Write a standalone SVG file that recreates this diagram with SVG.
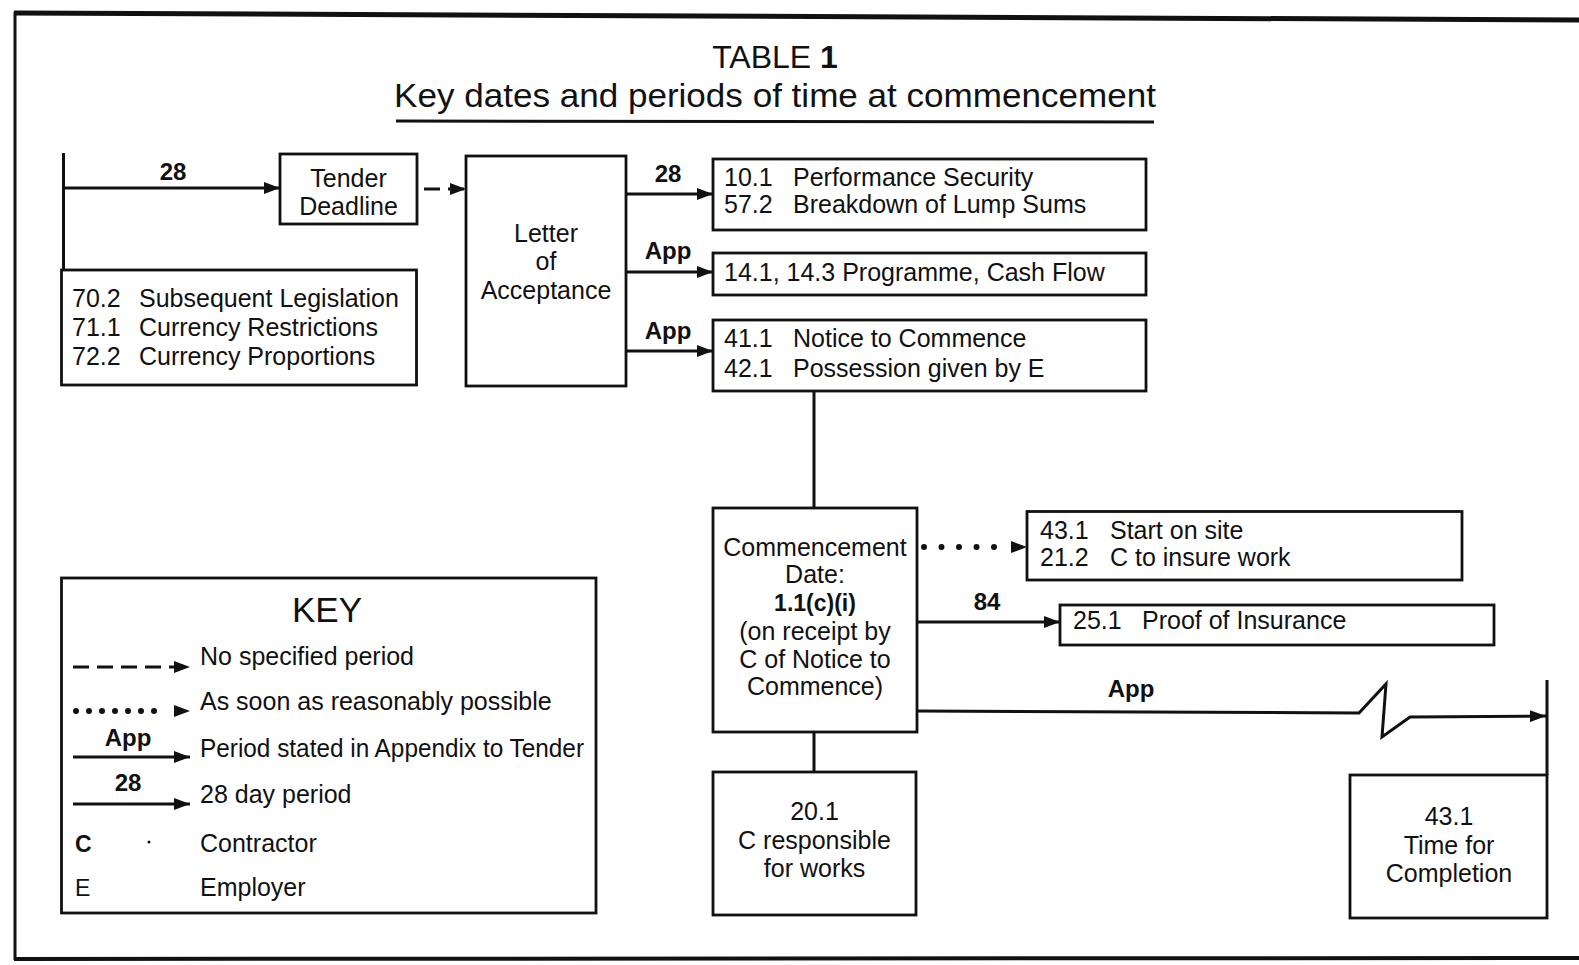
<svg xmlns="http://www.w3.org/2000/svg" width="1579" height="965" viewBox="0 0 1579 965">
<defs>
<marker id="ah" viewBox="0 0 16 12" refX="16" refY="6" markerWidth="16" markerHeight="12" markerUnits="userSpaceOnUse" orient="auto">
<path d="M0,0 L16,6 L0,12 z" fill="#111"/>
</marker>
<style>
.box{fill:#fff;stroke:#111;stroke-width:2.8}
.t{font-family:"Liberation Sans",Arial,sans-serif;font-size:25px;fill:#111}
.c{text-anchor:middle}
.lb{font-family:"Liberation Sans",Arial,sans-serif;font-size:24px;font-weight:bold;fill:#111;text-anchor:middle}
.ln{fill:none;stroke:#111;stroke-width:3}
.ar{fill:none;stroke:#111;stroke-width:3;marker-end:url(#ah)}
.dash{stroke-dasharray:16 8}
.dot{fill:none;stroke:#111;stroke-width:6;stroke-linecap:round}
.hd{fill:none;stroke:none;marker-end:url(#ah)}
</style>
</defs>
<rect width="1579" height="965" fill="#fff"/>
<g id="frame">
<path d="M14,13 L1579,20" stroke="#111" stroke-width="5" fill="none"/>
<path d="M15,12 L15,960" stroke="#111" stroke-width="3" fill="none"/>
<path d="M14,959 L1579,958" stroke="#111" stroke-width="4" fill="none"/>
</g>
<g id="title">
<text class="t c" x="775" y="68" style="font-size:32px">TABLE <tspan font-weight="bold">1</tspan></text>
<text class="t c" x="775" y="107" style="font-size:34px" textLength="762" lengthAdjust="spacingAndGlyphs">Key dates and periods of time at commencement</text>
<path d="M396,121 L1154,122" stroke="#111" stroke-width="3" fill="none"/>
</g>
<g id="connectors">
<path class="ln" d="M63.5,153 L63.5,270"/>
<path class="ar" d="M63.5,188 L280,188"/>
<text class="lb" x="173" y="180">28</text>
<path class="ar dash" d="M424,189 L466,189"/>
<path class="ar" d="M626,194 L713,194"/>
<text class="lb" x="668" y="182">28</text>
<path class="ar" d="M626,272 L713,272"/>
<text class="lb" x="668" y="259">App</text>
<path class="ar" d="M626,351 L713,351"/>
<text class="lb" x="668" y="339">App</text>
<path class="ln" d="M814,391 L814,508"/>
<path class="dot" d="M924,547 L995,547" stroke-dasharray="0 17.5"/>
<path class="hd" d="M1000,547 L1027,547"/>
<path class="ar" d="M917,622 L1060,622"/>
<text class="lb" x="987" y="610">84</text>
<path class="ar" d="M917,711 L1359,713 L1386,684 L1382,737 L1410,717 L1546,716"/>
<text class="lb" x="1131" y="697">App</text>
<path class="ln" d="M1547,680 L1547,775"/>
<path class="ln" d="M814,732 L814,772"/>
</g>
<g id="tender">
<rect class="box" x="280" y="154" width="137" height="70"/>
<text class="t c" x="348.5" y="187">Tender</text>
<text class="t c" x="348.5" y="215">Deadline</text>
</g>
<g id="legislation">
<rect class="box" x="61.5" y="270" width="355" height="115"/>
<text class="t" y="307"><tspan x="72">70.2</tspan><tspan x="139">Subsequent Legislation</tspan></text>
<text class="t" y="336"><tspan x="72">71.1</tspan><tspan x="139">Currency Restrictions</tspan></text>
<text class="t" y="365"><tspan x="72">72.2</tspan><tspan x="139">Currency Proportions</tspan></text>
</g>
<g id="letter">
<rect class="box" x="466" y="156" width="160" height="230"/>
<text class="t c" x="546" y="242">Letter</text>
<text class="t c" x="546" y="270">of</text>
<text class="t c" x="546" y="299">Acceptance</text>
</g>
<g id="security">
<rect class="box" x="713" y="159" width="433" height="71"/>
<text class="t" y="186"><tspan x="724">10.1</tspan><tspan x="793">Performance Security</tspan></text>
<text class="t" y="213"><tspan x="724">57.2</tspan><tspan x="793">Breakdown of Lump Sums</tspan></text>
</g>
<g id="programme">
<rect class="box" x="713" y="253" width="433" height="42"/>
<text class="t" x="724" y="281">14.1, 14.3  Programme, Cash Flow</text>
</g>
<g id="notice">
<rect class="box" x="713" y="320" width="433" height="71"/>
<text class="t" y="347"><tspan x="724">41.1</tspan><tspan x="793">Notice to Commence</tspan></text>
<text class="t" y="377"><tspan x="724">42.1</tspan><tspan x="793">Possession given by E</tspan></text>
</g>
<g id="commencement">
<rect class="box" x="713" y="508" width="204" height="224"/>
<text class="t c" x="815" y="556">Commencement</text>
<text class="t c" x="815" y="583">Date:</text>
<text class="t c" x="815" y="611" font-weight="bold" style="font-size:23px">1.1(c)(i)</text>
<text class="t c" x="815" y="640">(on receipt by</text>
<text class="t c" x="815" y="668">C of Notice to</text>
<text class="t c" x="815" y="695">Commence)</text>
</g>
<g id="startsite">
<rect class="box" x="1027" y="511.5" width="435" height="68.5"/>
<text class="t" y="539"><tspan x="1040">43.1</tspan><tspan x="1110">Start on site</tspan></text>
<text class="t" y="566"><tspan x="1040">21.2</tspan><tspan x="1110">C to insure work</tspan></text>
</g>
<g id="insurance">
<rect class="box" x="1060" y="605" width="434" height="40"/>
<text class="t" y="629"><tspan x="1073">25.1</tspan><tspan x="1142">Proof of Insurance</tspan></text>
</g>
<g id="responsible">
<rect class="box" x="713" y="772" width="203" height="143"/>
<text class="t c" x="814.5" y="820">20.1</text>
<text class="t c" x="814.5" y="849">C responsible</text>
<text class="t c" x="814.5" y="877">for works</text>
</g>
<g id="completion">
<rect class="box" x="1350" y="775" width="197" height="143"/>
<text class="t c" x="1449" y="825">43.1</text>
<text class="t c" x="1449" y="854">Time for</text>
<text class="t c" x="1449" y="882">Completion</text>
</g>
<g id="key">
<rect class="box" x="61.5" y="578" width="534.5" height="335"/>
<text class="t c" x="327" y="622" style="font-size:35px">KEY</text>
<path class="ar dash" d="M73,667 L190,667"/>
<text class="t" x="200" y="665">No specified period</text>
<path class="dot" d="M76,711 L167,711" stroke-dasharray="0 13"/>
<path class="hd" d="M172,711 L190,711"/>
<text class="t" x="200" y="710">As soon as reasonably possible</text>
<text class="lb" x="128" y="746">App</text>
<path class="ar" d="M73,757 L190,757"/>
<text class="t" x="200" y="757" textLength="384" lengthAdjust="spacingAndGlyphs">Period stated in Appendix to Tender</text>
<text class="lb" x="128" y="791">28</text>
<path class="ar" d="M73,804 L190,804"/>
<text class="t" x="200" y="803">28 day period</text>
<text class="t" x="75" y="852" font-weight="bold" style="font-size:23px">C</text>
<circle cx="149" cy="842" r="1.5" fill="#111"/>
<text class="t" x="200" y="852">Contractor</text>
<text class="t" x="75" y="896" style="font-size:23px">E</text>
<text class="t" x="200" y="896">Employer</text>
</g>
</svg>
